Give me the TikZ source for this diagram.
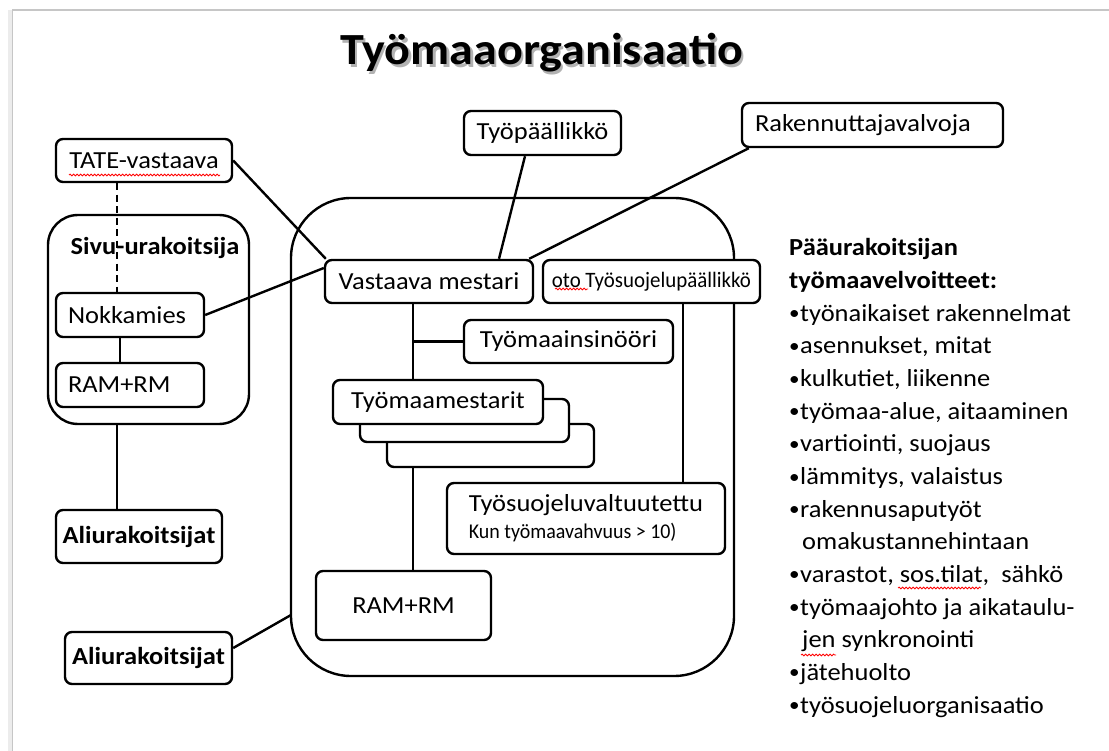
\documentclass[tikz,border=0pt]{standalone}
\usepackage{fontspec}
\setmainfont{Carlito}[FakeStretch=1.08]
\newfontfamily\condfont{Carlito}[FakeStretch=0.95]
\usetikzlibrary{decorations.pathmorphing}
\newcommand\mainsz{\fontsize{24.5}{29}\selectfont}
\newcommand\bul{\makebox[11pt][l]{\raisebox{0.06em}{\scalebox{0.8}{\textbullet}}}}
\begin{document}
\begin{tikzpicture}[x=1pt,y=-1pt,
  box/.style={draw, line width=2.4pt, rounded corners=7pt, fill=white, inner sep=0pt, font=\mainsz},
  bfbox/.style={box, font=\mainsz\bfseries},
  group/.style={draw, line width=2.4pt, inner sep=0pt},
  lnk/.style={line width=2.4pt},
  rtext/.style={anchor=base west, inner sep=0pt, font=\mainsz},
  squig/.style={draw=red, line width=0.8pt, decorate, decoration={snake, amplitude=0.9pt, segment length=3.5pt}}
]
\useasboundingbox (0,0) rectangle (1109,751);
% page frame
\draw[gray!15, line width=4pt] (10,751) -- (10,10);
\draw[gray!45, line width=1.2pt] (12.5,751) -- (12.5,10) -- (1109,10);

% title with soft shadow
\node[inner sep=0pt, anchor=base, font=\fontsize{44.5}{50}\selectfont\bfseries, text=black!30] (titleshadow) at (544,67.5) {Työmaaorganisaatio};
\node[inner sep=0pt, anchor=base, font=\fontsize{44.5}{50}\selectfont\bfseries] (title) at (541.5,65) {Työmaaorganisaatio};

% group boxes
\node[group, rounded corners=60pt, minimum width=443pt, minimum height=478pt] (main) at (512.5,437) {};
\node[group, rounded corners=30pt, minimum width=201pt, minimum height=209pt] (sivu) at (148.5,319.5) {};
\node[inner sep=0pt, font=\mainsz\bfseries] (sivutxt) at (155,248) {Sivu-urakoitsija};

% helper coordinates
\coordinate (dx) at (117,0);
\coordinate (lx) at (120,0);
\coordinate (vx) at (413,0);
\coordinate (ox) at (683,0);
\coordinate (mainL) at (291,615);

% nodes
\node[box, minimum width=176pt, minimum height=43pt] (tate) at (144,160.5) {TATE-vastaava};
\node[box, minimum width=148pt, minimum height=44pt, text width=124pt, align=left] (nokka) at (130,315) {Nokkamies};
\node[box, minimum width=148pt, minimum height=44pt, text width=124pt, align=left] (raml) at (130,385) {RAM+RM};
\node[bfbox, minimum width=166pt, minimum height=53pt] (ali1) at (139,536.5) {Aliurakoitsijat};
\node[bfbox, minimum width=167pt, minimum height=52pt] (ali2) at (148.5,658) {Aliurakoitsijat};

\node[box, minimum width=157pt, minimum height=44pt] (tyop) at (542.5,133) {Työpäällikkö};
\node[box, minimum width=261pt, minimum height=44pt, text width=235pt, align=left] (rak) at (872.5,125) {Rakennuttajavalvoja};
\node[box, minimum width=208pt, minimum height=43pt] (vast) at (429,281.5) {Vastaava mestari};
\node[box, minimum width=217pt, minimum height=43pt, font=\fontsize{22}{26}\selectfont\condfont] (oto) at (651.5,281.5) {oto Työsuojelupäällikkö};
\node[box, minimum width=209pt, minimum height=43pt] (insin) at (568.5,341.5) {Työmaainsinööri};
\node[box, minimum width=207pt, minimum height=43pt] (mest3) at (490.5,445.5) {};
\node[box, minimum width=209pt, minimum height=43pt] (mest2) at (464.5,420.5) {};
\node[box, minimum width=210pt, minimum height=44pt] (mest1) at (438,402) {Työmaamestarit};
\node[box, minimum width=278pt, minimum height=71pt, align=left] (tsv) at (586,518.5) {Työsuojeluvaltuutettu\\[-2pt]{\fontsize{21}{24}\selectfont\condfont Kun työmaavahvuus > 10)}};
\node[box, minimum width=175pt, minimum height=69pt] (ramm) at (403.5,605.5) {RAM+RM};

% connectors
\draw[lnk, dash pattern=on 7pt off 4.5pt] (tate.south -| dx) -- (nokka.north -| dx);
\draw[lnk] (nokka.south -| lx) -- (raml.north -| lx);
\draw[lnk] (sivu.south -| dx) -- (ali1.north -| dx);
\draw[lnk] ([yshift=10pt]ali2.east) -- (mainL);
\draw[lnk] ([xshift=-17.5pt]tyop.south) -- ([xshift=70pt]vast.north);
\draw[lnk] ([xshift=8pt]rak.south west) -- ([xshift=-5pt]vast.north east);
\draw[lnk] (tate.east) -- ([xshift=2pt]vast.north west);
\draw[lnk] (nokka.east) -- ([yshift=13.5pt]vast.west);
\draw[lnk] (vast.south -| vx) -- (mest1.north -| vx);
\draw[lnk] (vx |- insin.west) -- (insin.west);
\draw[lnk] (mest3.south -| vx) -- (ramm.north -| vx);
\draw[lnk] (oto.south -| ox) -- (tsv.north -| ox);

% right text
\node[rtext, font=\mainsz\bfseries] (r1) at (789,256) {Pääurakoitsijan};
\node[rtext, font=\mainsz\bfseries] (r2) at (789,288.6) {työmaavelvoitteet:};
\node[rtext] (r3) at (789,321.3) {\bul työnaikaiset rakennelmat};
\node[rtext] (r4) at (789,353.9) {\bul asennukset, mitat};
\node[rtext] (r5) at (789,386.6) {\bul kulkutiet, liikenne};
\node[rtext] (r6) at (789,419.2) {\bul työmaa-alue, aitaaminen};
\node[rtext] (r7) at (789,451.8) {\bul vartiointi, suojaus};
\node[rtext] (r8) at (789,484.5) {\bul lämmitys, valaistus};
\node[rtext] (r9) at (789,517.1) {\bul rakennusaputyöt};
\node[rtext] (r10) at (789,549.8) {\hspace*{13pt}omakustannehintaan};
\node[rtext] (r11) at (789,582.4) {\bul varastot, sos.tilat,\ \ sähkö};
\node[rtext] (r12) at (789,615.0) {\bul työmaajohto ja aikataulu-};
\node[rtext] (r13) at (789,647.7) {\hspace*{13pt}jen synkronointi};
\node[rtext] (r14) at (789,680.3) {\bul jätehuolto};
\node[rtext] (r15) at (789,713.0) {\bul työsuojeluorganisaatio};

% spell-check squiggles
\draw[squig] (69,175) -- (220,175);
\draw[squig] (555,289) -- (588,289);
\draw[squig] (898,588) -- (981,588);
\draw[squig] (801,655) -- (836,655);
\end{tikzpicture}
\end{document}
